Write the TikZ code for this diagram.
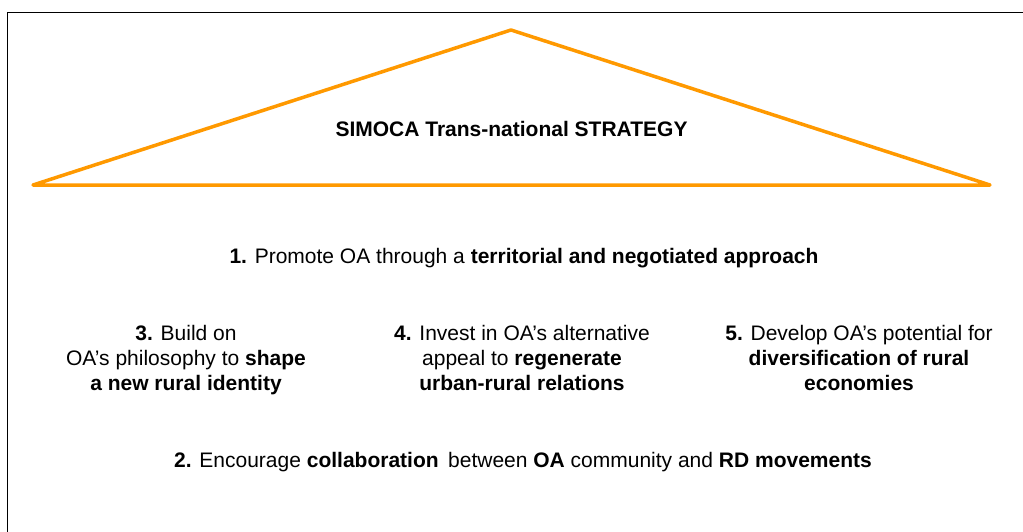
\documentclass[tikz,border=0pt]{standalone}
\usepackage{fontspec}
\setmainfont{Liberation Sans}
\usepackage{tikz}

\definecolor{roof}{RGB}{255,153,0}
\tikzset{txt/.style={inner sep=0pt,font=\fontsize{21}{25}\selectfont,align=center}}

\begin{document}
\begin{tikzpicture}[x=1pt,y=-1pt]
		\useasboundingbox (0,0) rectangle (1023,532);
		% frame and roof
		\draw [line width=1.8pt,black] (7.5,532) -- (7.5,12.5) -- (1023,12.5);
		\coordinate (L) at (33,185);
		\coordinate (M) at (511,30);
		\coordinate (R) at (990,185);
		\draw [roof,line width=3.5pt,line join=round,line cap=round] (L) -- (M) -- (R) -- cycle;
		\node [txt,anchor=base] (T) at (511.5,137) {\textbf{SIMOCA Trans-national STRATEGY}};
		% strategy lines
		\node [txt,anchor=base] (S1) at (524,263) {\textbf{1.} Promote OA through a \textbf{territorial and negotiated approach}};
		\node [txt,anchor=north] (S3) at (186,325) {\textbf{3.} Build on\\OA’s philosophy to \textbf{shape}\\\textbf{a new rural identity}};
		\node [txt,anchor=north] (S4) at (522,325) {\textbf{4.} Invest in OA’s alternative\\appeal to \textbf{regenerate}\\\textbf{urban-rural relations}};
		\node [txt,anchor=north] (S5) at (859,325) {\textbf{5.} Develop OA’s potential for\\\textbf{diversification of rural}\\\textbf{economies}};
		\node [txt,anchor=base] (S2) at (523,467) {\textbf{2.} Encourage \textbf{collaboration}\hspace{0.45em}between \textbf{OA} community and \textbf{RD movements}};
\end{tikzpicture}
\end{document}
